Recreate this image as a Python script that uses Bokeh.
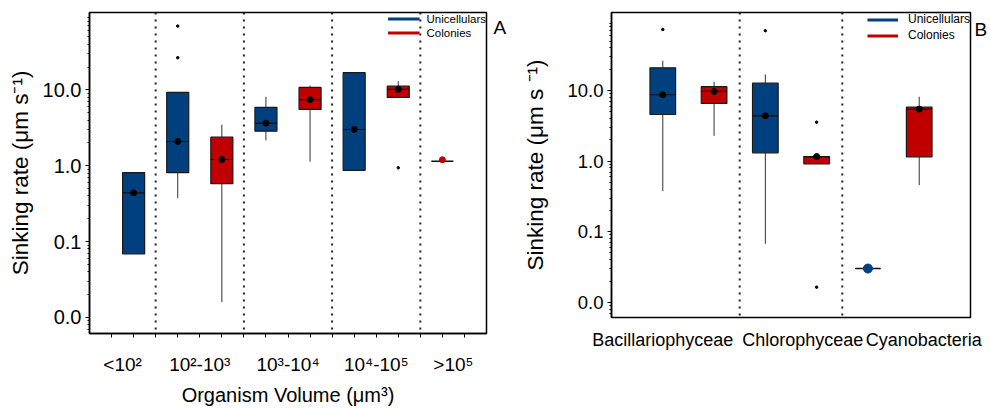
from bokeh.plotting import figure
from bokeh.layouts import row
from bokeh.models import (FixedTicker, PrintfTickFormatter, Span, Legend, LinearAxis,
                          LinearScale, LegendItem, ColumnDataSource, Range1d)
from bokeh.embed import file_html
from bokeh.resources import INLINE

FONT = "Liberation Sans"
BLUE = "#00407f"
RED = "#c00000"
TYPE_COLORS = {"Unicellulars": BLUE, "Colonies": RED}
TYPE_ORDER = ["Unicellulars", "Colonies"]

# ---------------- Panel A data ----------------
a_categories = ["<10²", "10²-10³", "10³-10⁴", "10⁴-10⁵", ">10⁵"]
a_box_group = ["<10²", "10²-10³", "10²-10³", "10³-10⁴", "10³-10⁴", "10⁴-10⁵", "10⁴-10⁵"]
a_box_type = ["Unicellulars", "Unicellulars", "Colonies", "Unicellulars", "Colonies",
              "Unicellulars", "Colonies"]
a_q1 = [0.069, 0.81, 0.58, 2.86, 5.53, 0.87, 7.96]
a_median = [0.44, 2.09, 1.21, 3.65, 7.43, 3.01, 10.15]
a_q3 = [0.81, 9.27, 2.38, 5.88, 10.8, 16.9, 11.2]
a_low = [0.069, 0.374, 0.0159, 2.16, 1.13, 0.87, 7.96]
a_high = [0.81, 9.27, 3.47, 8.13, 11.4, 16.9, 13.06]
a_mean = [0.44, 2.09, 1.21, 3.65, 7.43, 3.01, 10.15]
a_out_group = ["10²-10³", "10²-10³", "10⁴-10⁵"]
a_out_type = ["Unicellulars", "Unicellulars", "Colonies"]
a_out_value = [69.5, 26.6, 0.94]
a_single_group = [">10⁵"]
a_single_type = ["Colonies"]
a_single_value = [1.15]
a_single_mean = [1.2]

# ---------------- Panel B data ----------------
b_categories = ["Bacillariophyceae", "Chlorophyceae", "Cyanobacteria"]
b_box_group = ["Bacillariophyceae", "Bacillariophyceae", "Chlorophyceae", "Chlorophyceae",
               "Cyanobacteria"]
b_box_type = ["Unicellulars", "Colonies", "Unicellulars", "Colonies", "Colonies"]
b_q1 = [4.57, 6.55, 1.31, 0.916, 1.15]
b_median = [8.69, 9.68, 4.38, 1.16, 5.43]
b_q3 = [20.9, 11.3, 12.7, 1.16, 5.8]
b_low = [0.375, 2.28, 0.0675, 0.916, 0.456]
b_high = [26.4, 13.3, 16.9, 1.16, 8.15]
b_mean = [8.69, 9.68, 4.38, 1.16, 5.43]
b_out_group = ["Bacillariophyceae", "Chlorophyceae", "Chlorophyceae", "Chlorophyceae"]
b_out_type = ["Unicellulars", "Unicellulars", "Colonies", "Colonies"]
b_out_value = [73.1, 70.1, 3.56, 0.0164]
b_single_group = ["Cyanobacteria"]
b_single_type = ["Unicellulars"]
b_single_value = [0.0301]
b_single_mean = [0.0301]

y_major = [0.01, 0.1, 1, 10]
y_minor = [k * 10.0 ** d for d in range(-3, 3) for k in range(2, 10)]

BOX_W = 0.5


def slots_for(categories, groups, types):
    present = set(zip(groups, types))
    slots = []
    for c in categories:
        for t in TYPE_ORDER:
            if (c, t) in present:
                slots.append((c, t))
    return {s: i + 1 for i, s in enumerate(slots)}, slots


def build_panel(p, categories, box_group, box_type, q1, med, q3, low, high, mean,
                out_group, out_type, out_value, s_group, s_type, s_value, s_mean, dot_size):
    pos, slots = slots_for(categories, list(box_group) + list(s_group),
                           list(box_type) + list(s_type))
    xs = [pos[(g, t)] for g, t in zip(box_group, box_type)]
    src = ColumnDataSource(dict(
        x=xs, xl=[x - BOX_W / 2 for x in xs], xr=[x + BOX_W / 2 for x in xs],
        q1=q1, med=med, q3=q3, low=low, high=high, mean=mean,
        color=[TYPE_COLORS[t] for t in box_type]))
    p.segment(x0="x", y0="low", x1="x", y1="q1", source=src, line_color="#333333", line_width=1)
    p.segment(x0="x", y0="q3", x1="x", y1="high", source=src, line_color="#333333", line_width=1)
    p.vbar(x="x", width=BOX_W, bottom="q1", top="q3", source=src, fill_color="color",
           line_color="#1a1a1a", line_width=1.2)
    p.segment(x0="xl", y0="med", x1="xr", y1="med", source=src, line_color="#111111", line_width=1.2)
    p.scatter(x="x", y="mean", source=src, size=6, color="black")
    ox = [pos[(g, t)] for g, t in zip(out_group, out_type)]
    p.scatter(x=ox, y=out_value, size=2.5, color="black")
    sx = [pos[(g, t)] for g, t in zip(s_group, s_type)]
    p.segment(x0=[x - BOX_W / 2 for x in sx], x1=[x + BOX_W / 2 for x in sx],
              y0=s_value, y1=s_value, line_color="#111111", line_width=1.5)
    p.scatter(x=sx, y=s_mean, size=dot_size, color=[TYPE_COLORS[t] for t in s_type])
    # separators between categories
    cat_pos = {c: [pos[s] for s in slots if s[0] == c] for c in categories}
    seps = [(max(cat_pos[a]) + min(cat_pos[b])) / 2 for a, b in zip(categories[:-1], categories[1:])]
    for s in seps:
        p.add_layout(Span(location=s, dimension="height", line_color="#222222",
                          line_dash="2 5", line_width=2))
    n = len(slots)
    bounds = [0] + seps + [n + 1]
    centers = [(bounds[i] + bounds[i + 1]) / 2 for i in range(len(categories))]
    halfs = [i / 2 for i in range(1, 2 * n + 2)]
    # legend
    items = []
    for t in TYPE_ORDER:
        r = p.line(x=[float("nan")], y=[float("nan")], line_color=TYPE_COLORS[t], line_width=3)
        items.append(LegendItem(label=t, renderers=[r]))
    return n, centers, halfs, items


def style_common(p, label_size, ylabel, ylabel_standoff):
    p.xgrid.grid_line_color = None
    p.ygrid.grid_line_color = None
    p.outline_line_color = "black"
    p.outline_line_width = 1.5
    p.outline_line_alpha = 1
    p.yaxis.ticker = FixedTicker(ticks=y_major, minor_ticks=y_minor)
    p.yaxis.formatter = PrintfTickFormatter(format="%.1f")
    p.yaxis.axis_label = ylabel
    p.yaxis.axis_label_text_font = FONT
    p.yaxis.axis_label_text_font_style = "normal"
    p.yaxis.axis_label_text_font_size = "22.5px"
    p.yaxis.axis_label_text_color = "black"
    p.yaxis.axis_label_standoff = ylabel_standoff
    p.yaxis.major_label_text_font = FONT
    p.yaxis.major_label_text_font_size = label_size
    p.yaxis.major_label_text_color = "black"
    p.yaxis.major_tick_out = 4
    p.yaxis.major_tick_in = 0
    p.yaxis.minor_tick_out = 2
    p.yaxis.minor_tick_in = 0
    p.yaxis.major_label_standoff = 4
    p.yaxis.axis_line_width = 1.5


def panel_letter(p, letter, frac, standoff):
    p.extra_y_ranges = {"letter": Range1d(0, 1)}
    p.extra_y_scales = {"letter": LinearScale()}
    ax = LinearAxis(y_range_name="letter", ticker=FixedTicker(ticks=[frac], minor_ticks=[]),
                    major_label_overrides={frac: letter}, axis_line_color=None,
                    major_tick_line_color=None, minor_tick_line_color=None,
                    major_tick_out=0, major_tick_in=0, minor_tick_out=0, minor_tick_in=0,
                    major_label_standoff=standoff, major_label_text_font=FONT,
                    major_label_text_font_size="19px", major_label_text_color="black")
    p.add_layout(ax, "right")


# ---------------- Figure A ----------------
pA = figure(width=510, height=408, y_axis_type="log", output_backend="svg",
            toolbar_location=None, min_border_left=89, min_border_right=24,
            min_border_top=12, min_border_bottom=75)
pA.y_range = Range1d(0.00614, 105)
nA, centersA, halfsA, itemsA = build_panel(
    pA, a_categories, a_box_group, a_box_type, a_q1, a_median, a_q3, a_low, a_high, a_mean,
    a_out_group, a_out_type, a_out_value, a_single_group, a_single_type, a_single_value,
    a_single_mean, 6)
pA.x_range = Range1d(0, nA + 1)
style_common(pA, "20px", "Sinking rate (μm s⁻¹)", 7)
pA.xaxis.ticker = FixedTicker(ticks=centersA, minor_ticks=halfsA)
pA.xaxis.major_label_overrides = {c: l for c, l in zip(centersA, a_categories)}
pA.xaxis.major_tick_out = 0
pA.xaxis.major_tick_in = 0
pA.xaxis.minor_tick_out = 4
pA.xaxis.minor_tick_in = 0
pA.xaxis.major_label_standoff = 16
pA.xaxis.major_label_text_font = FONT
pA.xaxis.major_label_text_font_size = "19px"
pA.xaxis.major_label_text_color = "black"
pA.xaxis.axis_label = "Organism Volume (μm³)"
pA.xaxis.axis_label_text_font = FONT
pA.xaxis.axis_label_text_font_style = "normal"
pA.xaxis.axis_label_text_font_size = "20px"
pA.xaxis.axis_label_text_color = "black"
pA.xaxis.axis_label_standoff = 6
pA.xaxis.axis_line_width = 1.5
legA = Legend(items=itemsA, location="top_right", margin=0, padding=8, spacing=1,
              glyph_width=32, glyph_height=13, label_height=13, label_standoff=7,
              label_text_font=FONT, label_text_font_size="11.5px", label_text_color="black",
              border_line_color=None, background_fill_alpha=0)
pA.add_layout(legA)
panel_letter(pA, "A", 0.953, 7)

# ---------------- Figure B ----------------
pB = figure(width=480, height=392, y_axis_type="log", output_backend="svg",
            toolbar_location=None, min_border_left=101, min_border_right=17,
            min_border_top=12, min_border_bottom=75)
pB.y_range = Range1d(0.0061, 127)
nB, centersB, halfsB, itemsB = build_panel(
    pB, b_categories, b_box_group, b_box_type, b_q1, b_median, b_q3, b_low, b_high, b_mean,
    b_out_group, b_out_type, b_out_value, b_single_group, b_single_type, b_single_value,
    b_single_mean, 9)
pB.x_range = Range1d(0, nB + 1)
style_common(pB, "18.5px", "Sinking rate (μm s ⁻¹)", 16)
b_label_ticks = [1.0, 3.73, 6.09]
pB.xaxis.ticker = FixedTicker(ticks=b_label_ticks, minor_ticks=[])
pB.xaxis.major_label_overrides = {c: l for c, l in zip(b_label_ticks, b_categories)}
pB.xaxis.major_tick_out = 0
pB.xaxis.major_tick_in = 0
pB.xaxis.minor_tick_out = 0
pB.xaxis.minor_tick_in = 0
pB.xaxis.axis_line_color = None
pB.xaxis.major_label_standoff = 12
pB.xaxis.major_label_text_font = FONT
pB.xaxis.major_label_text_font_size = "18px"
pB.xaxis.major_label_text_color = "black"
legB = Legend(items=itemsB, location="top_right", margin=0, padding=7, spacing=2,
              glyph_width=31, glyph_height=13, label_height=13, label_standoff=10,
              label_text_font=FONT, label_text_font_size="12px", label_text_color="black",
              border_line_color=None, background_fill_alpha=0)
pB.add_layout(legB)
panel_letter(pB, "B", 0.944, 4)

layout = row(pA, pB, spacing=0)
open("out.html", "w").write(file_html(layout, INLINE))
